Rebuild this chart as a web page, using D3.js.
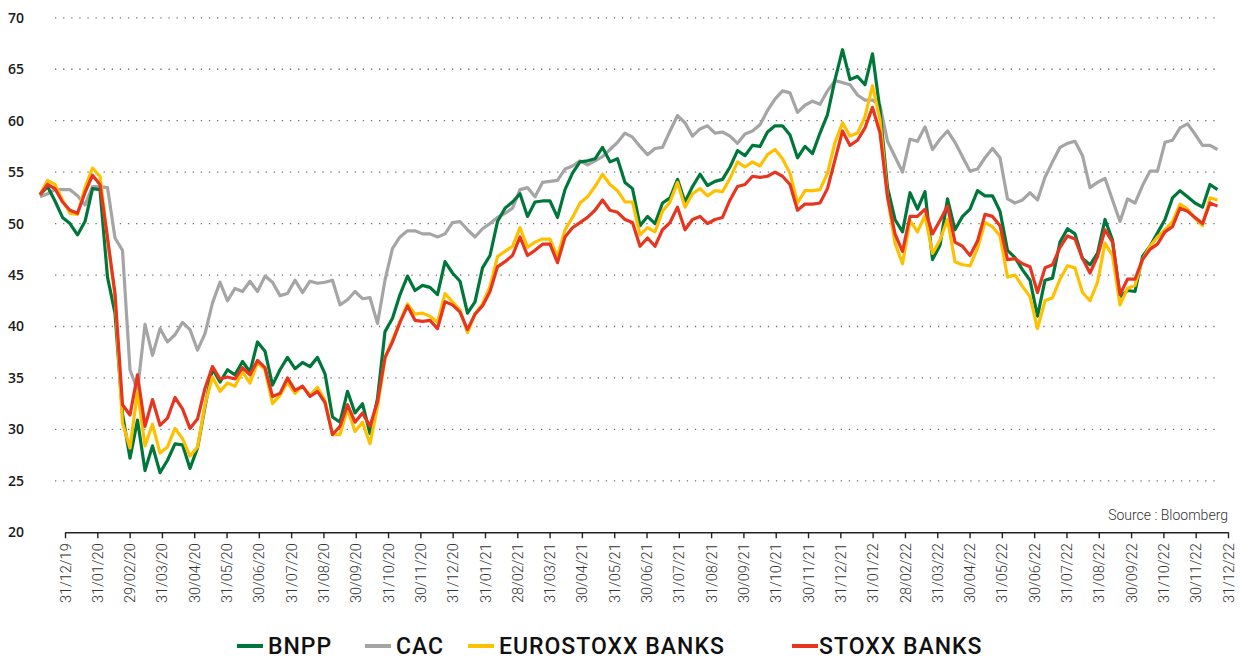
<!DOCTYPE html>
<html>
<head>
<meta charset="utf-8">
<script src="https://cdn.jsdelivr.net/npm/d3@7"></script>
<style>
  body { margin: 0; background: #fff; }
  svg { display: block; font-family: Roboto, "Noto Sans", sans-serif; }
</style>
</head>
<body>
<svg id="chart" width="1244" height="659"></svg>
<script>
// données (hebdomadaires, base 100 ->)
const moisLabels = ['31/12/19','31/01/20','29/02/20','31/03/20','30/04/20','31/05/20','30/06/20','31/07/20','31/08/20','30/09/20','31/10/20','30/11/20','31/12/20',
  '31/01/21','28/02/21','31/03/21','30/04/21','31/05/21','30/06/21','31/07/21','31/08/21','30/09/21','31/10/21','30/11/21','31/12/21',
  '31/01/22','28/02/22','31/03/22','30/04/22','31/05/22','30/06/22','31/07/22','31/08/22','30/09/22','31/10/22','30/11/22','31/12/22'];
const yTicks = [20, 25, 30, 35, 40, 45, 50, 55, 60, 65, 70];

const bnpp = [52.8,53.6,52.2,50.6,50.0,48.9,50.2,53.4,53.3,44.8,41.3,31.5,27.2,30.9,26.0,28.4,25.8,27.0,28.6,28.5,
  26.2,28.2,32.2,35.9,34.6,35.8,35.3,36.6,35.6,38.5,37.6,34.3,35.8,37.0,35.9,36.5,36.1,37.0,35.4,31.2,
  30.7,33.7,31.6,32.5,29.6,33.0,39.5,40.8,43.1,44.9,43.5,44.0,43.8,43.1,46.3,45.2,44.4,41.3,42.4,45.7,
  46.9,50.2,51.5,52.1,52.9,50.7,52.1,52.2,52.2,50.6,53.3,54.9,56.0,56.1,56.3,57.4,56.0,56.3,54.0,53.4,
  49.8,50.7,50.0,52.0,52.5,54.3,52.1,53.6,54.8,53.7,54.1,54.3,55.5,57.1,56.6,57.6,57.5,58.9,59.5,59.5,
  58.6,56.4,57.5,56.8,58.8,60.6,64.0,66.9,64.0,64.3,63.5,66.5,61.0,53.5,50.4,49.2,53.0,51.4,53.1,46.5,
  47.9,52.4,49.4,50.7,51.4,53.2,52.7,52.7,51.2,47.4,46.7,45.5,44.5,41.0,44.5,44.7,48.2,49.5,49.0,46.6,
  46.0,47.1,50.4,48.4,42.9,43.5,43.4,46.8,47.8,49.1,50.4,52.5,53.2,52.6,52.0,51.6,53.8,53.3];

const cac = [52.6,52.9,53.3,53.3,53.3,52.7,51.8,53.6,53.6,53.5,48.6,47.4,35.8,33.8,40.2,37.2,39.8,38.5,39.2,40.4,
  39.7,37.7,39.3,42.3,44.3,42.5,43.7,43.4,44.4,43.4,44.9,44.3,43.0,43.2,44.5,43.3,44.4,44.2,44.3,44.5,
  42.1,42.6,43.4,42.7,42.8,40.3,44.5,47.6,48.7,49.3,49.3,49.0,49.0,48.7,49.0,50.1,50.2,49.4,48.7,49.5,
  50.0,50.6,51.0,51.5,53.3,53.5,52.6,54.0,54.1,54.2,55.3,55.6,56.1,55.7,56.1,56.5,57.2,57.9,58.8,58.4,
  57.5,56.7,57.3,57.4,59.0,60.5,59.8,58.5,59.2,59.5,58.8,58.9,58.5,57.8,58.7,59.0,59.6,61.0,62.1,62.9,
  62.7,60.8,61.5,61.9,61.6,62.9,63.9,63.7,63.5,62.5,62.0,62.0,61.5,58.0,56.5,55.0,58.2,58.0,59.4,57.2,
  58.2,59.0,57.9,56.5,55.1,55.3,56.4,57.3,56.4,52.4,52.0,52.3,53.0,52.3,54.5,56.0,57.4,57.8,58.0,56.6,
  53.5,54.0,54.4,52.3,50.2,52.4,52.0,53.7,55.1,55.1,57.9,58.1,59.3,59.7,58.7,57.6,57.6,57.2];

const eurostoxxBanks = [52.8,54.2,53.8,52.3,51.0,50.9,53.5,55.4,54.6,48.5,43.0,30.6,28.2,33.7,28.4,30.5,27.7,28.3,30.1,29.1,
  27.4,28.3,32.4,35.1,33.7,34.5,34.2,35.6,34.5,36.5,35.8,32.5,33.3,34.6,33.5,34.2,33.3,34.1,32.8,29.5,
  29.5,32.0,29.8,30.7,28.6,32.2,36.9,38.7,40.5,42.2,41.2,41.3,41.0,40.4,43.2,42.4,41.6,39.4,41.2,42.2,
  43.9,46.8,47.3,47.8,49.6,47.7,48.2,48.5,48.5,46.8,49.4,50.6,52.0,52.6,53.6,54.8,53.8,53.2,52.1,52.1,
  48.9,49.6,49.2,51.2,52.1,54.0,51.6,52.9,53.4,52.7,53.2,53.1,54.4,56.0,55.5,56.0,55.6,56.7,57.2,56.3,
  54.9,52.0,53.2,53.2,53.3,54.9,57.9,59.8,58.5,58.8,60.4,63.4,60.1,52.6,48.1,46.1,50.3,49.2,50.8,47.1,
  48.4,50.4,46.3,46.0,45.9,47.6,50.1,49.7,48.8,44.8,45.0,43.9,42.9,39.8,42.5,42.8,44.6,45.9,45.7,43.3,
  42.5,44.3,48.1,46.9,42.1,43.7,44.0,46.5,47.8,48.7,49.4,50.2,51.9,51.4,50.5,49.8,52.5,52.3];

const stoxxBanks = [52.8,53.8,53.4,52.1,51.3,51.0,53.0,54.7,53.8,48.6,43.2,32.4,31.4,35.3,30.3,32.9,30.4,31.1,33.1,32.0,
  30.1,31.0,34.0,36.1,34.9,35.1,34.9,36.0,35.3,36.7,36.0,33.2,33.5,35.0,33.8,34.2,33.2,33.7,32.6,29.5,
  30.3,32.4,30.7,31.6,30.3,32.7,37.0,38.5,40.4,42.0,40.6,40.5,40.6,39.8,42.4,42.1,41.4,39.7,41.2,42.0,
  43.4,45.8,46.3,46.9,48.7,46.9,47.4,48.0,48.0,46.2,48.7,49.6,50.1,50.6,51.3,52.3,51.3,51.1,50.4,50.1,
  47.8,48.6,47.8,49.4,50.1,51.6,49.4,50.4,50.7,50.0,50.4,50.6,52.3,53.6,53.8,54.6,54.5,54.6,55.0,54.6,
  53.8,51.3,51.9,51.9,52.0,53.4,56.2,59.0,57.6,58.1,59.3,61.3,58.8,52.6,49.0,47.3,50.7,50.7,51.4,49.0,
  50.3,51.7,48.2,47.8,46.9,48.3,50.9,50.7,49.8,46.5,46.6,46.1,45.8,43.3,45.7,46.0,47.7,48.8,48.5,46.6,
  45.2,46.8,49.4,48.2,43.1,44.6,44.6,46.5,47.5,48.0,49.2,49.7,51.5,51.2,50.6,50.0,52.0,51.7];

const series = [
  { nom: 'CAC', valeurs: cac, couleur: '#a5a5a5' },
  { nom: 'BNPP', valeurs: bnpp, couleur: '#00773a' },
  { nom: 'EUROSTOXX BANKS', valeurs: eurostoxxBanks, couleur: '#ffc000' },
  { nom: 'STOXX BANKS', valeurs: stoxxBanks, couleur: '#e8351f' }
];
const ordreLegende = ['BNPP', 'CAC', 'EUROSTOXX BANKS', 'STOXX BANKS'];

const svg = d3.select('#chart');

// échelles
const y = d3.scaleLinear().domain([20, 70]).range([532.3, 17.8]);
const xMois = d3.scalePoint().domain(moisLabels).range([65, 1228]);
const xSem = d3.scaleLinear().domain([0, bnpp.length - 1]).range([40, 1217.5]);

// grille pointillée
svg.append('g')
  .selectAll('line')
  .data(yTicks.filter(d => d > 20))
  .join('line')
  .attr('x1', 55).attr('x2', 1216)
  .attr('y1', d => y(d)).attr('y2', d => y(d))
  .attr('stroke', '#707070')
  .attr('stroke-width', 1.3)
  .attr('stroke-dasharray', '1.3 6.8');

// axe y
const axeY = svg.append('g')
  .attr('transform', 'translate(8,0)')
  .call(d3.axisLeft(y).tickValues(yTicks).tickSize(0));
axeY.select('.domain').remove();
axeY.selectAll('text')
  .attr('x', 0)
  .attr('text-anchor', 'start')
  .attr('fill', '#1a1a1a')
  .style('font-size', '14px')
  .style('font-weight', '600')
  .style('font-family', '"Open Sans", sans-serif');

// lignes
const ligne = d3.line()
  .x((d, i) => xSem(i))
  .y(d => y(d));

svg.append('g')
  .selectAll('path')
  .data(series)
  .join('path')
  .attr('d', d => ligne(d.valeurs))
  .attr('fill', 'none')
  .attr('stroke', d => d.couleur)
  .attr('stroke-width', 3.2)
  .attr('stroke-linejoin', 'round');

// axe x
const axeX = svg.append('g')
  .attr('transform', 'translate(0,532.3)')
  .call(d3.axisBottom(xMois).tickSize(6).tickSizeOuter(0));
axeX.select('.domain').attr('stroke', '#222').attr('stroke-width', 1.6);
axeX.selectAll('.tick line').attr('stroke', '#222').attr('stroke-width', 1.4);
axeX.selectAll('text')
  .attr('transform', 'rotate(-90)')
  .attr('x', -11)
  .attr('y', 0)
  .attr('dy', '0.35em')
  .attr('text-anchor', 'end')
  .attr('fill', '#333')
  .style('font-size', '14.5px')
  .style('font-family', 'Roboto, sans-serif')
  .style('font-weight', '300');

// source
svg.append('text')
  .attr('x', 1228).attr('y', 520)
  .attr('text-anchor', 'end')
  .attr('fill', '#333')
  .style('font-size', '14px')
  .style('font-weight', '300')
  .text('Source : Bloomberg');

// légende
const posLegende = [237, 365, 468, 792];
const leg = svg.append('g')
  .selectAll('g')
  .data(ordreLegende)
  .join('g')
  .attr('transform', (d, i) => `translate(${posLegende[i]},646)`);
leg.append('line')
  .attr('x1', 0).attr('x2', 26)
  .attr('stroke', d => series.find(s => s.nom === d).couleur)
  .attr('stroke-width', 4);
leg.append('text')
  .attr('x', (d, i) => i === 3 ? 27 : 31)
  .attr('dy', '0.36em')
  .attr('fill', '#111')
  .style('font-size', '23px')
  .style('letter-spacing', '1px')
  .style('font-weight', '500')
  .text(d => d);
</script>
</body>
</html>
